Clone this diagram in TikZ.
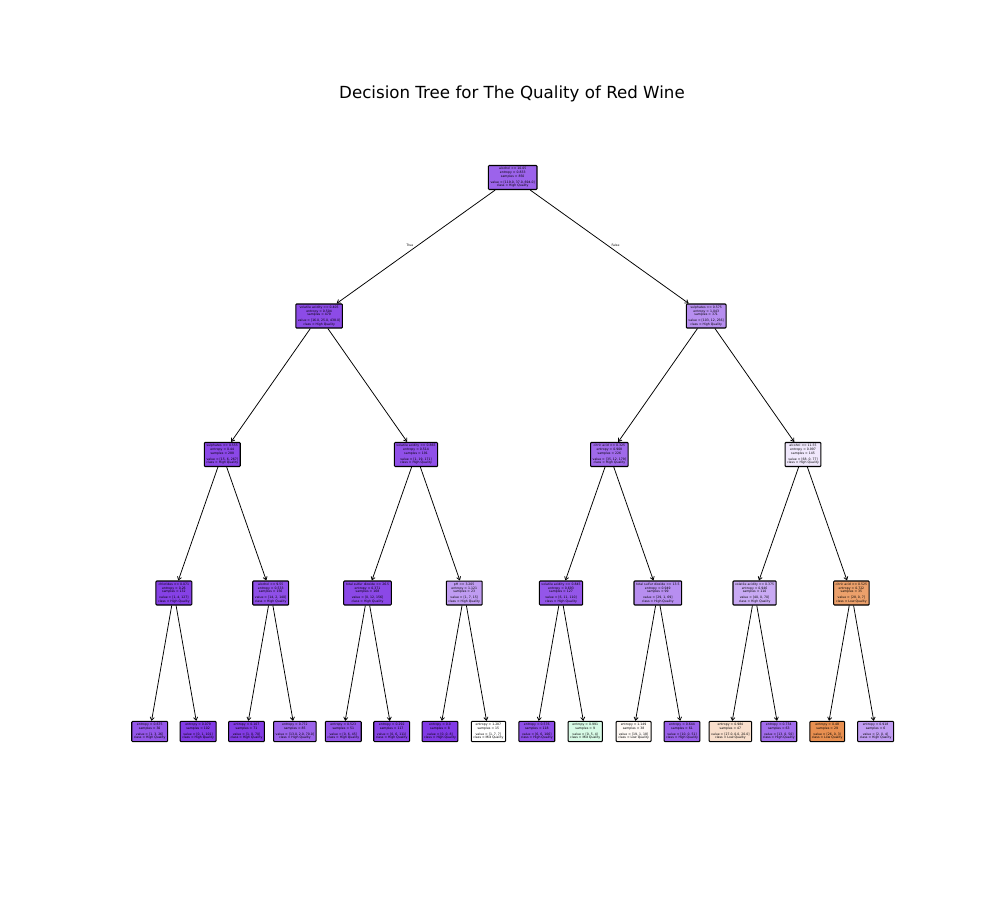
\documentclass[tikz,border=0pt]{standalone}
\usepackage{fontspec}
\setmainfont{DejaVu Sans}
\usetikzlibrary{arrows.meta}
\definecolor{pur}{RGB}{129,57,229}
\definecolor{org}{RGB}{229,129,57}
\definecolor{grn}{RGB}{57,229,129}
\tikzset{
  tn/.style={draw=black, line width=0.75pt, rounded corners=0.6pt, inner sep=1.5pt,
    align=center, font=\fontsize{2.25}{2.7}\selectfont},
  edge/.style={line width=0.55pt, -{Straight Barb[length=2.2pt,width=3pt]}},
  elab/.style={font=\fontsize{2.25}{2.7}\selectfont, inner sep=0pt},
  ttl/.style={font=\fontsize{12}{14}\selectfont, inner sep=0pt}
}
\newcommand{\spl}[5]{#1\\entropy = #2\\samples = #3\\[1.3pt]value = #4\\class = #5}
\newcommand{\lf}[4]{entropy = #1\\samples = #2\\[1.3pt]value = #3\\class = #4}
\begin{document}
\begin{tikzpicture}[x=0.72pt,y=-0.72pt]
\useasboundingbox (0,0) rectangle (1000,900);
\node[ttl] (title) at (512,94) {Decision Tree for The Quality of Red Wine};
% level 0
\node[tn, fill=pur!78.7!white] (r) at (512.7,177.5) {\spl{alcohol <= 10.05}{0.833}{850}{[119.0, 37.0, 694.0]}{High Quality}};
% level 1
\node[tn, fill=pur!91.0!white] (a) at (319.1,316) {\spl{volatile acidity <= 0.405}{0.504}{479}{[16.0, 25.0, 438.0]}{High Quality}};
\node[tn, fill=pur!57.1!white] (b) at (706.2,316) {\spl{sulphates <= 0.575}{1.043}{371}{[103, 12, 256]}{High Quality}};
% level 2
\node[tn, fill=pur!92.3!white] (aa) at (222.3,454.5) {\spl{sulphates <= 0.555}{0.44}{288}{[15, 6, 267]}{High Quality}};
\node[tn, fill=pur!88.4!white] (ab) at (416.0,454.5) {\spl{volatile acidity <= 0.865}{0.514}{191}{[1, 19, 171]}{High Quality}};
\node[tn, fill=pur!75.4!white] (ba) at (609.4,454.5) {\spl{citric acid <= 0.325}{0.908}{226}{[35, 12, 179]}{High Quality}};
\node[tn, fill=pur!11.7!white] (bb) at (803.0,454.5) {\spl{alcohol <= 11.55}{0.997}{145}{[68, 0, 77]}{High Quality}};
% level 3
\node[tn, fill=pur!96.1!white] (aaa) at (173.9,593) {\spl{chlorides <= 0.071}{0.26}{132}{[1, 4, 127]}{High Quality}};
\node[tn, fill=pur!88.7!white] (aab) at (270.7,593) {\spl{alcohol <= 9.55}{0.533}{156}{[14, 2, 140]}{High Quality}};
\node[tn, fill=pur!92.3!white] (aba) at (367.5,593) {\spl{total sulfur dioxide <= 26.5}{0.371}{168}{[0, 12, 156]}{High Quality}};
\node[tn, fill=pur!50.0!white] (abb) at (464.2,593) {\spl{pH <= 3.205}{1.121}{23}{[1, 7, 15]}{High Quality}};
\node[tn, fill=pur!85.3!white] (baa) at (561.0,593) {\spl{volatile acidity <= 0.845}{0.693}{127}{[6, 11, 110]}{High Quality}};
\node[tn, fill=pur!57.1!white] (bab) at (657.8,593) {\spl{total sulfur dioxide <= 13.5}{0.949}{99}{[29, 1, 69]}{High Quality}};
\node[tn, fill=pur!42.9!white] (bba) at (754.6,593) {\spl{volatile acidity <= 0.375}{0.946}{110}{[40, 0, 70]}{High Quality}};
\node[tn, fill=org!75.0!white] (bbb) at (851.4,593) {\spl{citric acid <= 0.525}{0.722}{35}{[28, 0, 7]}{Low Quality}};
% level 4 (leaves)
\node[tn, fill=pur!85.2!white] (l1) at (149.7,731.5) {\lf{0.675}{30}{[1, 3, 26]}{High Quality}};
\node[tn, fill=pur!99.0!white] (l2) at (198.1,731.5) {\lf{0.079}{102}{[0, 1, 101]}{High Quality}};
\node[tn, fill=pur!98.6!white] (l3) at (246.5,731.5) {\lf{0.107}{71}{[1, 0, 70]}{High Quality}};
\node[tn, fill=pur!79.2!white] (l4) at (294.9,731.5) {\lf{0.772}{85}{[13.0, 2.0, 70.0]}{High Quality}};
\node[tn, fill=pur!86.7!white] (l5) at (343.3,731.5) {\lf{0.523}{51}{[0, 6, 45]}{High Quality}};
\node[tn, fill=pur!94.6!white] (l6) at (391.7,731.5) {\lf{0.292}{117}{[0, 6, 111]}{High Quality}};
\node[tn, fill=pur!100!white] (l7) at (440.0,731.5) {\lf{0.0}{8}{[0, 0, 8]}{High Quality}};
\node[tn, fill=white] (l8) at (488.4,731.5) {\lf{1.287}{15}{[1, 7, 7]}{Mid Quality}};
\node[tn, fill=pur!89.3!white] (l9) at (536.8,731.5) {\lf{0.576}{118}{[6, 6, 106]}{High Quality}};
\node[tn, fill=grn!20.0!white] (l10) at (585.2,731.5) {\lf{0.991}{9}{[0, 5, 4]}{Mid Quality}};
\node[tn, fill=org!5.0!white] (l11) at (633.6,731.5) {\lf{1.149}{38}{[19, 1, 18]}{Low Quality}};
\node[tn, fill=pur!80.4!white] (l12) at (682.0,731.5) {\lf{0.644}{61}{[10, 0, 51]}{High Quality}};
\node[tn, fill=org!25.9!white] (l13) at (730.4,731.5) {\lf{0.984}{47}{[27.0, 0.0, 20.0]}{Low Quality}};
\node[tn, fill=pur!74.0!white] (l14) at (778.8,731.5) {\lf{0.734}{63}{[13, 0, 50]}{High Quality}};
\node[tn, fill=org!88.5!white] (l15) at (827.2,731.5) {\lf{0.48}{29}{[26, 0, 3]}{Low Quality}};
\node[tn, fill=pur!50.0!white] (l16) at (875.6,731.5) {\lf{0.918}{6}{[2, 0, 4]}{High Quality}};
% edges
\draw[edge] (r) -- (a);
\draw[edge] (r) -- (b);
\draw[edge] (a) -- (aa);
\draw[edge] (a) -- (ab);
\draw[edge] (b) -- (ba);
\draw[edge] (b) -- (bb);
\draw[edge] (aa) -- (aaa);
\draw[edge] (aa) -- (aab);
\draw[edge] (ab) -- (aba);
\draw[edge] (ab) -- (abb);
\draw[edge] (ba) -- (baa);
\draw[edge] (ba) -- (bab);
\draw[edge] (bb) -- (bba);
\draw[edge] (bb) -- (bbb);
\draw[edge] (aaa) -- (l1);
\draw[edge] (aaa) -- (l2);
\draw[edge] (aab) -- (l3);
\draw[edge] (aab) -- (l4);
\draw[edge] (aba) -- (l5);
\draw[edge] (aba) -- (l6);
\draw[edge] (abb) -- (l7);
\draw[edge] (abb) -- (l8);
\draw[edge] (baa) -- (l9);
\draw[edge] (baa) -- (l10);
\draw[edge] (bab) -- (l11);
\draw[edge] (bab) -- (l12);
\draw[edge] (bba) -- (l13);
\draw[edge] (bba) -- (l14);
\draw[edge] (bbb) -- (l15);
\draw[edge] (bbb) -- (l16);
% edge labels
\node[elab] (tl) at (410,245) {True};
\node[elab] (fl) at (615.5,245) {False};
\end{tikzpicture}
\end{document}
